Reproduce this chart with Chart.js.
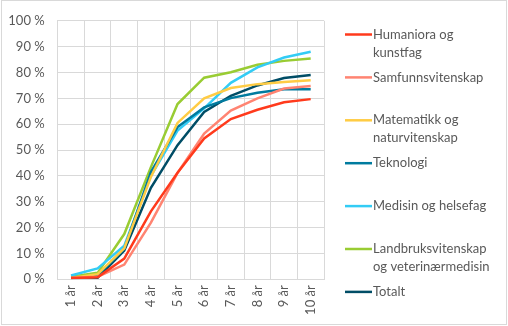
<!DOCTYPE html>
<html>
<head>
<meta charset="utf-8">
<script src="https://cdn.jsdelivr.net/npm/chart.js@4"></script>
<style>
  html, body { margin: 0; padding: 0; background: #ffffff; }
  #wrap { position: relative; width: 508px; height: 326px; }
</style>
</head>
<body>
<div id="wrap"><canvas id="mycanvas" width="508" height="326"></canvas></div>
<script>
// x-axis categories
var years = ['1 år', '2 år', '3 år', '4 år', '5 år', '6 år', '7 år', '8 år', '9 år', '10 år'];

// series (percent completed)
var humaniora   = [0.5, 0.8, 8.0, 26.3, 41.2, 54.5, 62.0, 65.6, 68.5, 69.7];
var samfunn     = [0.5, 1.0, 5.7, 21.9, 41.2, 56.4, 65.3, 70.0, 73.8, 74.8];
var matematikk  = [0.5, 2.0, 12.0, 39.6, 60.5, 70.0, 74.0, 75.5, 76.3, 77.0];
var teknologi   = [0.5, 1.5, 11.8, 41.5, 58.9, 66.5, 70.1, 72.2, 73.5, 73.5];
var medisin     = [1.5, 4.2, 13.0, 40.0, 57.5, 66.1, 76.0, 82.0, 85.8, 88.0];
var landbruk    = [1.0, 2.5, 17.5, 43.4, 67.8, 78.0, 80.1, 83.0, 84.5, 85.4];
var totalt      = [0.5, 0.6, 11.1, 35.4, 51.9, 64.7, 71.0, 75.0, 77.9, 79.0];

// y tick values
var yTicks = [0, 10, 20, 30, 40, 50, 60, 70, 80, 90, 100];

var names = [
  ['Humaniora og', 'kunstfag'],
  ['Samfunnsvitenskap'],
  ['Matematikk og', 'naturvitenskap'],
  ['Teknologi'],
  ['Medisin og helsefag'],
  ['Landbruksvitenskap', 'og veterinærmedisin'],
  ['Totalt']
];
var colors = ['#ff3a1c', '#ff8472', '#ffcc44', '#007b9f', '#33ccf5', '#99cc33', '#004d66'];
var series = [humaniora, samfunn, matematikk, teknologi, medisin, landbruk, totalt];

var FONT = 'Lato, "Open Sans", sans-serif';

// legend drawn on the canvas at the right side, plus the chart frame
var sideLegend = {
  id: 'sideLegend',
  afterDraw: function(chart) {
    var ctx = chart.ctx;
    ctx.save();
    ctx.strokeStyle = '#d9d9d9';
    ctx.lineWidth = 1;
    ctx.strokeRect(1.5, 0.5, 505, 324);
    ctx.font = '13px ' + FONT;
    ctx.textBaseline = 'middle';
    ctx.fillStyle = '#595959';
    for (var i = 0; i < names.length; i++) {
      var y = 34.5 + i * 42.9;
      ctx.strokeStyle = colors[i];
      ctx.lineWidth = 2.5;
      ctx.beginPath();
      ctx.moveTo(345, y);
      ctx.lineTo(372, y);
      ctx.stroke();
      for (var j = 0; j < names[i].length; j++) {
        ctx.fillText(names[i][j], 373, y + j * 18);
      }
    }
    ctx.restore();
  }
};

var datasets = [];
for (var i = 0; i < series.length; i++) {
  datasets.push({
    label: names[i].join(' '),
    data: series[i],
    borderColor: colors[i],
    backgroundColor: colors[i],
    borderWidth: 2.5,
    pointRadius: 0,
    tension: 0,
    fill: false
  });
}

var ctx = document.getElementById('mycanvas');
var lineGraph = new Chart(ctx, {
  type: 'line',
  data: { labels: years, datasets: datasets },
  plugins: [sideLegend],
  options: {
    responsive: false,
    animation: false,
    layout: { padding: { left: 0, right: 184, top: 16, bottom: 0 } },
    plugins: {
      legend: { display: false },
      tooltip: { enabled: false }
    },
    scales: {
      x: {
        offset: true,
        grid: { offset: true, color: '#d9d9d9', drawTicks: false },
        border: { color: '#d9d9d9' },
        ticks: {
          color: '#595959',
          font: { family: FONT, size: 13 },
          minRotation: 90,
          maxRotation: 90,
          padding: 6
        },
        afterFit: function(scale) { scale.height = 46.7; }
      },
      y: {
        min: 0,
        max: 100,
        afterBuildTicks: function(scale) {
          scale.ticks = yTicks.map(function(v) { return { value: v }; });
        },
        grid: { color: '#d9d9d9', drawTicks: false },
        border: { color: '#d9d9d9' },
        ticks: {
          color: '#595959',
          font: { family: FONT, size: 13 },
          padding: 13,
          callback: function(v) { return v + ' %'; }
        },
        afterFit: function(scale) { scale.width = 57.7; }
      }
    }
  }
});
</script>
</body>
</html>
